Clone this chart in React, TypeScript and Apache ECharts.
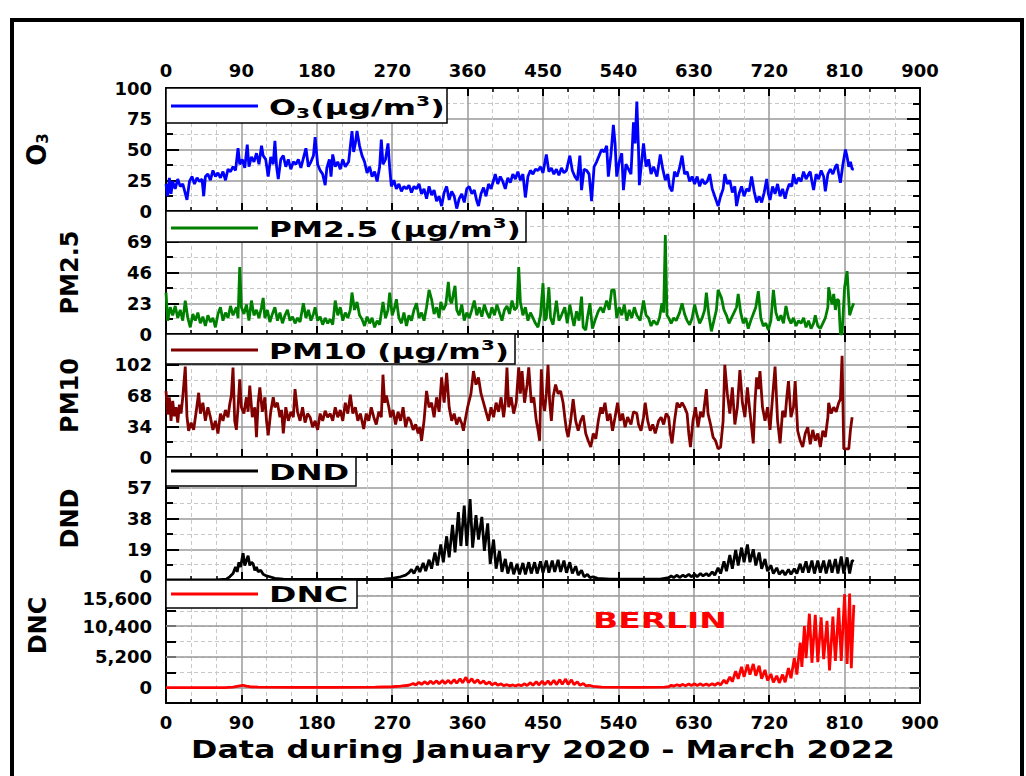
import React, { useEffect, useRef } from 'react';
import * as echarts from 'echarts';

// ---------------- DATA (day index, value) ----------------
const xTickLabels = [0, 90, 180, 270, 360, 450, 540, 630, 720, 810, 900];

const o3Series: number[][] = [
  [0,22],[2,12],[4,27],[6,14],[8,24],[11,18],[14,26],[17,20],[20,22],[22,17],[25,9],[28,24],[31,28],[34,22],[37,27],[40,24],[43,26],[45,12],[47,28],[50,30],[53,25],[56,33],[59,28],[62,31],[65,27],[68,32],[71,25],[74,34],[77,32],[80,36],[83,33],[86,51],[88,38],[91,42],[94,35],[97,54],[99,36],[102,44],[105,40],[108,47],[111,38],[114,53],[116,45],[119,42],[122,28],[125,44],[128,38],[130,57],[132,36],[134,26],[137,42],[140,45],[143,36],[146,42],[149,34],[152,40],[155,38],[158,42],[161,35],[164,43],[167,51],[170,36],[173,40],[176,45],[178,60],[181,38],[184,33],[187,30],[190,21],[192,35],[195,42],[197,28],[199,46],[202,36],[205,40],[208,34],[211,42],[214,36],[218,40],[222,65],[224,48],[226,55],[228,65],[231,53],[234,45],[237,40],[240,31],[243,36],[246,28],[249,32],[252,24],[255,36],[257,58],[259,38],[262,42],[265,55],[267,35],[269,20],[272,25],[275,18],[278,22],[281,16],[284,20],[287,18],[290,21],[293,15],[296,20],[299,18],[302,22],[305,14],[308,18],[311,10],[314,20],[317,13],[320,17],[323,8],[326,12],[329,4],[332,15],[335,20],[338,9],[341,16],[344,12],[347,2],[350,10],[353,14],[356,7],[359,18],[362,20],[365,14],[368,17],[371,8],[373,4],[376,14],[379,19],[382,12],[385,22],[388,18],[391,25],[393,30],[396,22],[399,28],[402,24],[405,18],[408,27],[411,23],[414,30],[417,26],[420,32],[423,25],[426,30],[429,11],[432,28],[435,33],[438,30],[441,34],[444,33],[447,36],[450,31],[454,46],[457,32],[460,35],[463,30],[466,34],[469,29],[472,35],[475,31],[478,33],[482,45],[485,33],[488,28],[491,25],[494,45],[496,17],[499,34],[502,33],[505,30],[508,8],[511,36],[514,40],[517,45],[520,50],[523,48],[526,53],[528,28],[531,45],[534,70],[536,55],[538,28],[541,40],[544,47],[546,17],[549,38],[552,34],[555,30],[558,72],[560,55],[562,89],[564,50],[565,21],[568,42],[570,55],[573,36],[576,42],[579,30],[582,36],[586,28],[590,46],[593,34],[596,25],[599,30],[601,20],[604,16],[607,32],[610,28],[613,35],[616,45],[619,30],[622,32],[625,24],[628,28],[631,22],[634,28],[637,20],[640,26],[643,22],[646,24],[649,30],[652,18],[655,12],[657,8],[659,4],[662,12],[665,18],[667,30],[670,22],[673,25],[676,15],[679,20],[681,4],[684,14],[687,20],[690,12],[693,18],[696,16],[699,28],[702,16],[705,7],[708,12],[711,7],[714,15],[717,26],[719,14],[721,9],[724,20],[727,14],[730,22],[733,12],[736,18],[739,10],[741,16],[744,22],[747,20],[749,30],[752,22],[755,27],[758,24],[761,32],[764,26],[767,30],[769,32],[771,24],[773,17],[776,30],[779,26],[782,33],[785,28],[787,16],[790,30],[793,34],[796,30],[799,36],[801,38],[803,30],[805,23],[808,38],[811,50],[813,44],[815,36],[817,40],[819,34],[821,34]
];

const pm25Series: number[][] = [
  [0,31],[2,10],[5,20],[8,14],[11,21],[14,12],[17,18],[20,10],[23,25],[26,12],[29,5],[32,15],[35,10],[38,16],[41,8],[44,13],[47,6],[50,14],[53,9],[56,12],[59,5],[62,15],[65,20],[68,10],[71,16],[74,12],[77,21],[80,14],[84,20],[86,12],[88,50],[90,20],[93,15],[96,22],[99,10],[102,25],[105,14],[108,18],[111,12],[114,20],[116,27],[118,12],[121,18],[124,9],[127,15],[130,20],[133,10],[136,16],[139,8],[142,14],[145,18],[148,10],[151,13],[154,8],[157,12],[160,9],[164,23],[167,12],[170,18],[173,10],[176,15],[178,20],[181,10],[184,13],[187,7],[190,12],[193,8],[196,11],[199,7],[202,25],[205,14],[208,20],[211,10],[214,16],[217,12],[220,18],[222,31],[225,18],[228,24],[231,14],[234,11],[237,6],[240,13],[243,8],[246,12],[249,5],[252,10],[255,7],[259,24],[262,12],[265,18],[267,31],[270,14],[273,20],[275,26],[278,12],[281,8],[284,16],[287,6],[290,14],[293,10],[296,18],[299,23],[302,12],[305,16],[308,10],[311,20],[314,33],[317,26],[320,15],[323,20],[326,12],[328,24],[331,18],[334,22],[337,39],[339,25],[341,23],[343,30],[345,36],[347,18],[350,14],[353,22],[356,10],[359,16],[362,12],[365,18],[368,25],[371,14],[374,20],[377,13],[380,22],[383,16],[386,12],[389,20],[392,14],[395,22],[398,16],[401,10],[404,18],[407,21],[410,15],[413,25],[416,18],[419,20],[421,50],[423,24],[426,14],[429,20],[432,10],[435,16],[438,12],[441,8],[444,5],[447,14],[450,38],[452,10],[454,12],[457,35],[459,12],[462,7],[466,25],[469,10],[472,14],[476,20],[479,8],[482,22],[485,12],[487,6],[490,17],[493,10],[496,28],[498,5],[501,3],[503,12],[506,23],[509,4],[512,10],[516,17],[519,20],[522,16],[526,25],[529,18],[532,33],[535,33],[538,12],[541,20],[544,14],[547,22],[550,10],[553,18],[556,12],[559,20],[562,14],[566,10],[570,25],[573,14],[576,12],[579,6],[582,10],[586,7],[589,12],[592,23],[594,16],[596,74],[598,14],[600,12],[603,8],[606,12],[609,10],[613,16],[616,23],[619,15],[622,10],[625,7],[628,12],[631,22],[634,14],[637,8],[640,12],[643,18],[645,31],[648,14],[651,2],[654,10],[657,18],[659,33],[661,30],[663,27],[666,18],[669,14],[672,8],[675,12],[678,16],[681,20],[683,30],[686,16],[689,8],[692,12],[695,4],[698,10],[701,15],[704,20],[707,32],[710,12],[713,6],[716,8],[719,3],[722,10],[725,33],[728,16],[731,10],[734,14],[737,8],[740,21],[743,12],[746,8],[749,12],[752,6],[755,10],[758,8],[761,12],[764,5],[767,10],[770,4],[773,8],[775,14],[778,6],[781,4],[784,8],[787,12],[790,20],[791,35],[793,28],[795,22],[797,30],[799,18],[801,26],[803,25],[805,0],[807,0],[810,35],[813,47],[816,14],[819,20],[821,23]
];

const pm10Series: number[][] = [
  [0,73],[2,47],[4,66],[6,40],[8,62],[10,45],[12,55],[14,38],[16,58],[18,48],[20,66],[23,100],[25,45],[27,29],[30,38],[33,30],[36,50],[39,71],[41,48],[44,60],[47,40],[50,55],[53,44],[56,30],[59,40],[62,26],[65,48],[68,40],[71,52],[74,44],[76,58],[78,68],[80,99],[82,40],[84,30],[86,55],[88,86],[90,55],[93,48],[96,66],[98,50],[100,79],[103,44],[106,55],[108,22],[110,60],[112,77],[115,50],[118,66],[120,40],[122,24],[125,50],[128,66],[130,55],[133,60],[136,44],[138,52],[140,26],[143,55],[146,40],[149,50],[152,44],[154,75],[157,50],[160,40],[163,55],[166,38],[169,48],[172,44],[175,33],[178,40],[181,30],[184,48],[187,40],[190,51],[193,44],[196,48],[199,40],[202,55],[205,44],[208,52],[211,40],[214,60],[217,48],[220,69],[223,48],[226,55],[229,40],[232,48],[236,31],[239,48],[242,40],[245,55],[248,44],[251,36],[254,50],[257,44],[259,91],[261,60],[263,68],[266,55],[268,44],[271,52],[274,36],[277,50],[280,40],[283,55],[286,33],[289,44],[292,40],[295,30],[298,36],[301,26],[303,33],[305,18],[308,40],[311,73],[314,55],[317,60],[320,44],[323,66],[326,50],[329,88],[332,60],[335,93],[338,55],[341,40],[344,48],[347,36],[350,44],[353,37],[355,29],[357,40],[360,55],[364,70],[367,95],[370,80],[373,88],[376,70],[379,60],[382,50],[385,40],[388,55],[391,44],[394,60],[397,50],[400,66],[403,44],[405,60],[407,99],[409,55],[412,66],[415,48],[418,60],[421,99],[423,70],[425,95],[428,60],[431,80],[433,99],[436,60],[439,66],[442,40],[444,30],[446,18],[448,97],[450,60],[452,51],[454,70],[456,102],[458,60],[460,40],[462,66],[465,80],[468,70],[471,73],[474,60],[476,44],[478,30],[480,22],[483,40],[486,64],[489,40],[492,29],[495,40],[498,46],[501,26],[504,18],[507,11],[510,26],[513,20],[516,40],[519,55],[521,48],[524,60],[527,40],[530,48],[533,29],[536,44],[539,60],[542,40],[545,48],[548,33],[551,44],[555,36],[558,50],[562,48],[564,36],[567,29],[570,44],[572,60],[575,40],[578,29],[581,36],[584,26],[588,40],[591,44],[594,36],[597,48],[600,44],[602,26],[604,15],[607,40],[610,60],[613,55],[616,60],[619,55],[622,48],[624,26],[626,11],[629,40],[632,55],[635,33],[638,50],[641,44],[645,75],[647,48],[650,36],[653,22],[656,18],[659,9],[662,11],[665,40],[667,102],[670,70],[673,48],[676,77],[679,36],[682,55],[685,96],[688,60],[691,44],[694,77],[697,50],[699,33],[701,15],[703,60],[705,88],[707,75],[709,95],[712,55],[715,40],[718,55],[721,30],[724,66],[727,100],[730,40],[733,15],[736,51],[739,44],[741,66],[743,84],[746,44],[749,55],[751,84],[754,29],[757,18],[760,11],[763,26],[766,33],[769,14],[772,30],[775,18],[778,26],[781,11],[784,29],[787,22],[790,44],[791,60],[794,48],[797,55],[800,50],[803,60],[805,64],[807,112],[809,9],[812,9],[815,9],[817,30],[819,44]
];

const dndSeries: number[][] = [
  [0,0],[60,0],[72,0.5],[76,2],[80,4],[83,8],[85,5],[87,11],[89,8],[92,16.5],[94,9],[96,12],[98,15],[100,9],[102,11],[104,10],[106,6],[108,8],[110,5],[113,6],[116,3.5],[120,2.5],[124,2],[130,1],[140,0.5],[200,0.3],[260,0.5],[270,1],[280,2],[286,3],[290,4.5],[293,6.5],[296,4],[300,8.5],[303,5],[307,10.5],[310,5.5],[314,12.5],[317,7],[321,17],[324,9],[328,22],[331,11],[335,27],[338,14],[342,34],[345,17],[349,42],[352,21],[356,46],[359,21],[363,50],[366,20],[370,40],[373,25],[377,39],[380,18],[384,35],[387,10],[391,25],[394,7],[398,18],[401,5],[405,13],[408,4],[412,11],[415,3.5],[419,10],[422,3.5],[426,10.5],[429,3.5],[433,11],[436,4],[440,11],[443,4],[447,11.5],[450,4.5],[454,12],[457,4.5],[461,12],[464,5],[468,12.5],[471,5],[475,12],[478,4.5],[482,11],[485,4],[489,8.5],[492,3],[496,6],[499,2],[503,3.5],[506,1.5],[510,2],[515,1],[530,0.5],[590,0.5],[600,1.5],[603,2.5],[606,1.5],[610,3],[613,1.5],[617,3],[620,2],[624,3.5],[627,2],[631,3.5],[634,2],[638,4],[641,2.5],[645,4],[648,2.5],[652,5],[655,3],[659,7.5],[662,4],[666,11.5],[669,5.5],[673,15.5],[676,7],[680,18.5],[683,9],[687,20],[690,11],[694,22],[697,11],[701,19],[704,9],[708,17],[711,7],[715,13],[718,5.5],[722,9],[725,4],[729,7.5],[732,3.5],[736,6],[739,3],[743,6.5],[746,3.5],[750,7],[753,4],[757,10],[760,4.5],[764,11.5],[767,4.5],[771,12],[774,4],[778,12],[781,4.5],[785,12],[788,4],[792,12.5],[795,4.5],[799,13],[802,4],[806,14.5],[809,4],[813,14],[816,4],[819,12],[821,11.5]
];

const dncSeries: number[][] = [
  [0,0],[70,0],[80,100],[88,300],[92,400],[96,250],[100,150],[110,80],[150,50],[200,50],[250,80],[270,150],[280,250],[290,400],[295,700],[298,450],[302,900],[305,550],[309,1000],[312,600],[316,1100],[319,650],[323,1150],[326,650],[330,1200],[333,700],[337,1250],[340,700],[344,1350],[347,750],[351,1500],[354,800],[358,1750],[361,850],[365,1500],[368,800],[372,1350],[375,700],[379,1150],[382,600],[386,950],[389,500],[393,800],[396,400],[400,650],[403,350],[407,500],[410,300],[414,450],[417,280],[421,500],[424,300],[428,650],[431,350],[435,850],[438,400],[442,1000],[445,450],[449,1100],[452,500],[456,1150],[459,500],[463,1250],[466,500],[470,1350],[473,550],[477,1450],[480,550],[484,1300],[487,500],[491,1000],[494,400],[498,700],[501,300],[505,400],[510,200],[520,100],[560,50],[595,80],[600,150],[603,400],[606,250],[610,500],[613,300],[617,550],[620,300],[624,600],[627,350],[631,650],[634,350],[638,650],[641,350],[645,600],[648,350],[652,650],[655,400],[659,800],[662,450],[666,1300],[669,700],[673,1800],[676,1000],[680,2800],[683,1500],[687,3500],[690,1800],[694,3900],[697,2200],[701,4000],[704,2000],[708,3700],[711,1500],[715,3000],[718,1200],[722,2300],[725,900],[729,2000],[732,800],[736,2200],[739,900],[743,3300],[746,1600],[750,5000],[753,2200],[757,7600],[759,3500],[762,10400],[764,5000],[768,12500],[771,4200],[775,12300],[778,4300],[782,11900],[785,4800],[789,11300],[792,2900],[796,12000],[799,4500],[803,13500],[806,4500],[810,15800],[813,4000],[816,15900],[818,3300],[821,14000]
];

const dncMajorValues = [0, 5200, 10400, 15600];

// ---------------- STYLE / LAYOUT ----------------
const FONT = "'DejaVu Sans', 'Liberation Sans', sans-serif";
const TOPS = [88, 211, 334, 457, 580];
const PANEL_H = 123;
const GRID_LEFT = 166;
const GRID_W = 754;
const COLORS = ['#0000ff', '#008000', '#800000', '#000000', '#ff0000'];
const Y_MIN = [0, 0, 0, 0, -2600];
const Y_MAX = [100, 92, 136, 76, 18200];
const Y_INT = [25, 23, 34, 19, 2600];
const NAME_GAP = [116, 84, 84, 84, 116];
const MAJOR_GRID = '#9a9a9a';
const MINOR_GRID = '#c8c8c8';

const labelStyle = { fontFamily: FONT, fontWeight: 'bold' as const, fontSize: 18, lineHeight: 14, color: '#000' };
const tokenStyle = { fontFamily: FONT, fontWeight: 'bold' as const, fontSize: 18, color: '#000' };

function commaFmt(v: number) {
  return String(v).replace(/\B(?=(\d{3})+(?!\d))/g, ',');
}

export default function App() {
  const ref = useRef<HTMLDivElement>(null);

  useEffect(() => {
    if (!ref.current) return;
    const chart = echarts.init(ref.current, null, { renderer: 'svg' });

    const grids = TOPS.map((t) => ({ left: GRID_LEFT, top: t, width: GRID_W, height: PANEL_H }));

    const xAxes: any[] = [];
    for (let i = 0; i < 5; i++) {
      xAxes.push({
        type: 'value', gridIndex: i, position: 'bottom', min: 0, max: 900, interval: 90,
        axisLine: { show: true, onZero: false, lineStyle: { color: '#000', width: 2 } },
        axisTick: { show: true, inside: true, length: 8, lineStyle: { color: '#000', width: 2 } },
        minorTick: { show: true, splitNumber: 3, length: 4, lineStyle: { color: '#000', width: 1.5 } },
        splitLine: { show: true, lineStyle: { color: MAJOR_GRID, width: 1.5 } },
        minorSplitLine: { show: true, lineStyle: { color: MINOR_GRID, width: 1, type: [4, 3] } },
        axisLabel: { show: i === 4, margin: 12, ...labelStyle, formatter: (v: number) => (xTickLabels.includes(v) ? String(v) : '') },
      });
    }
    for (let i = 0; i < 5; i++) {
      xAxes.push({
        type: 'value', gridIndex: i, position: 'top', min: 0, max: 900, interval: 90,
        axisLine: { show: true, onZero: false, lineStyle: { color: '#000', width: 2 } },
        axisTick: { show: true, inside: true, length: 8, lineStyle: { color: '#000', width: 2 } },
        minorTick: { show: true, splitNumber: 3, length: 4, lineStyle: { color: '#000', width: 1.5 } },
        splitLine: { show: false },
        axisLabel: { show: i === 0, margin: 11, ...labelStyle },
      });
    }

    const names = ['{a|O}{s|3}', 'PM2.5', 'PM10', 'DND', 'DNC'];
    const yAxes: any[] = [];
    for (let i = 0; i < 5; i++) {
      const isDnc = i === 4;
      const isDnd = i === 3;
      let formatter: (v: number) => string = (v: number) => String(v);
      if (isDnc) {
        formatter = (v: number) => {
          if (v < 0 || v > 15600 || v % 5200 !== 0) return '';
          return v === 15600 ? '{hi|' + commaFmt(v) + '}' : commaFmt(v);
        };
      } else if (isDnd) {
        formatter = (v: number) => (v === 0 ? '{lo|0}' : String(v));
      }
      yAxes.push({
        type: 'value', gridIndex: i, position: 'left', min: Y_MIN[i], max: Y_MAX[i], interval: Y_INT[i],
        name: names[i], nameLocation: 'middle', nameRotate: 90, nameGap: NAME_GAP[i],
        nameTextStyle: {
          fontFamily: FONT, fontWeight: 'bold', fontSize: 24, color: '#000',
          padding: isDnc ? [0, 0, 0, 32] : 0,
          rich: {
            a: { fontFamily: FONT, fontWeight: 'bold', fontSize: 26, color: '#000' },
            s: { fontFamily: FONT, fontWeight: 'bold', fontSize: 15, color: '#000', verticalAlign: 'bottom' },
          },
        },
        axisLine: { show: true, onZero: false, lineStyle: { color: '#000', width: 2 } },
        axisTick: { show: true, inside: true, length: isDnc ? 10 : 13, lineStyle: { color: '#000', width: 2 } },
        minorTick: { show: !isDnc, splitNumber: 2, length: 7, lineStyle: { color: '#000', width: 2 } },
        splitLine: { show: true, lineStyle: isDnc ? { color: MINOR_GRID, width: 1, type: [4, 3] } : { color: MAJOR_GRID, width: 1.5 } },
        minorSplitLine: { show: !isDnc, lineStyle: { color: MINOR_GRID, width: 1, type: [4, 3] } },
        axisLabel: {
          show: true, margin: 14, ...labelStyle,
          showMaxLabel: i === 0,
          formatter,
          rich: {
            lo: { ...tokenStyle, padding: [0, 0, 8, 0] },
            hi: { ...tokenStyle, padding: [6, 0, 0, 0] },
          },
        },
      });
    }
    for (let i = 0; i < 5; i++) {
      const isDnc = i === 4;
      yAxes.push({
        type: 'value', gridIndex: i, position: 'right', min: Y_MIN[i], max: Y_MAX[i], interval: Y_INT[i],
        axisLine: { show: true, onZero: false, lineStyle: { color: '#000', width: 2 } },
        axisTick: { show: true, inside: true, length: isDnc ? 10 : 13, lineStyle: { color: '#000', width: 2 } },
        minorTick: { show: !isDnc, splitNumber: 2, length: 7, lineStyle: { color: '#000', width: 2 } },
        splitLine: { show: false },
        axisLabel: { show: false },
      });
    }

    const dataSets = [o3Series, pm25Series, pm10Series, dndSeries, dncSeries];
    const seriesNames = ['O3', 'PM2.5', 'PM10', 'DND', 'DNC'];
    const series: any[] = dataSets.map((d, i) => ({
      type: 'line', name: seriesNames[i], xAxisIndex: i, yAxisIndex: i, data: d,
      showSymbol: false, symbol: 'none', z: 3,
      lineStyle: { color: COLORS[i], width: 2.8 }, itemStyle: { color: COLORS[i] },
      ...(i === 4
        ? {
            markLine: {
              silent: true, symbol: 'none', z: 1, animation: false,
              label: { show: false },
              lineStyle: { color: MAJOR_GRID, width: 1.5, type: 'solid' },
              data: dncMajorValues.map((v) => ({ yAxis: v })),
            },
          }
        : {}),
    }));

    const legendDefs = [
      { box: [166, 88, 281, 35], ly: 106, text: '{a|O}{s|3}{a|(μg/m}{p|3}{a|)}', sx: 1.45 },
      { box: [166, 211, 360, 31], ly: 228, text: '{a|PM2.5 (μg/m}{p|3}{a|)}', sx: 1.42 },
      { box: [166, 334, 349, 30], ly: 350, text: '{a|PM10 (μg/m}{p|3}{a|)}', sx: 1.42 },
      { box: [166, 457, 190, 29], ly: 471, text: '{a|DND}', sx: 1.46 },
      { box: [166, 580, 191, 28], ly: 594, text: '{a|DNC}', sx: 1.5 },
    ];
    const rich = {
      a: { fontFamily: FONT, fontWeight: 'bold', fontSize: 22, fill: '#000', lineHeight: 26 },
      s: { fontFamily: FONT, fontWeight: 'bold', fontSize: 14, fill: '#000', verticalAlign: 'bottom' },
      p: { fontFamily: FONT, fontWeight: 'bold', fontSize: 14, fill: '#000', verticalAlign: 'top' },
    };
    const graphics: any[] = [
      { type: 'rect', z: 100, silent: true, shape: { x: 12, y: 20, width: 1010, height: 800 }, style: { fill: 'none', stroke: '#000', lineWidth: 4 } },
    ];
    legendDefs.forEach((l, i) => {
      graphics.push({ type: 'rect', z: 50, shape: { x: l.box[0], y: l.box[1], width: l.box[2], height: l.box[3] }, style: { fill: '#fff', stroke: '#000', lineWidth: 1.5 } });
      graphics.push({ type: 'line', z: 51, shape: { x1: 171, y1: l.ly, x2: 258, y2: l.ly }, style: { stroke: COLORS[i], lineWidth: 3 } });
      graphics.push({ type: 'text', z: 52, x: 269, y: l.ly + 1, scaleX: l.sx, style: { text: l.text, rich, align: 'left', verticalAlign: 'middle' } });
    });
    graphics.push({
      type: 'text', z: 52, x: 593, y: 621, scaleX: 1.5,
      style: { text: 'BERLIN', fill: '#ff0000', fontFamily: FONT, fontWeight: 'bold', fontSize: 22, align: 'left', verticalAlign: 'middle' },
    });
    graphics.push({
      type: 'text', z: 52, x: 543, y: 749, scaleX: 1.27,
      style: { text: 'Data during January 2020 - March 2022', fill: '#000', fontFamily: FONT, fontWeight: 'bold', fontSize: 25, align: 'center', verticalAlign: 'middle' },
    });

    chart.setOption({
      animation: false,
      backgroundColor: '#fff',
      grid: grids,
      xAxis: xAxes,
      yAxis: yAxes,
      series,
      graphic: graphics,
    });

    return () => chart.dispose();
  }, []);

  return <div ref={ref} style={{ position: 'fixed', left: 0, top: 0, width: 1026, height: 776, background: '#fff' }} />;
}
